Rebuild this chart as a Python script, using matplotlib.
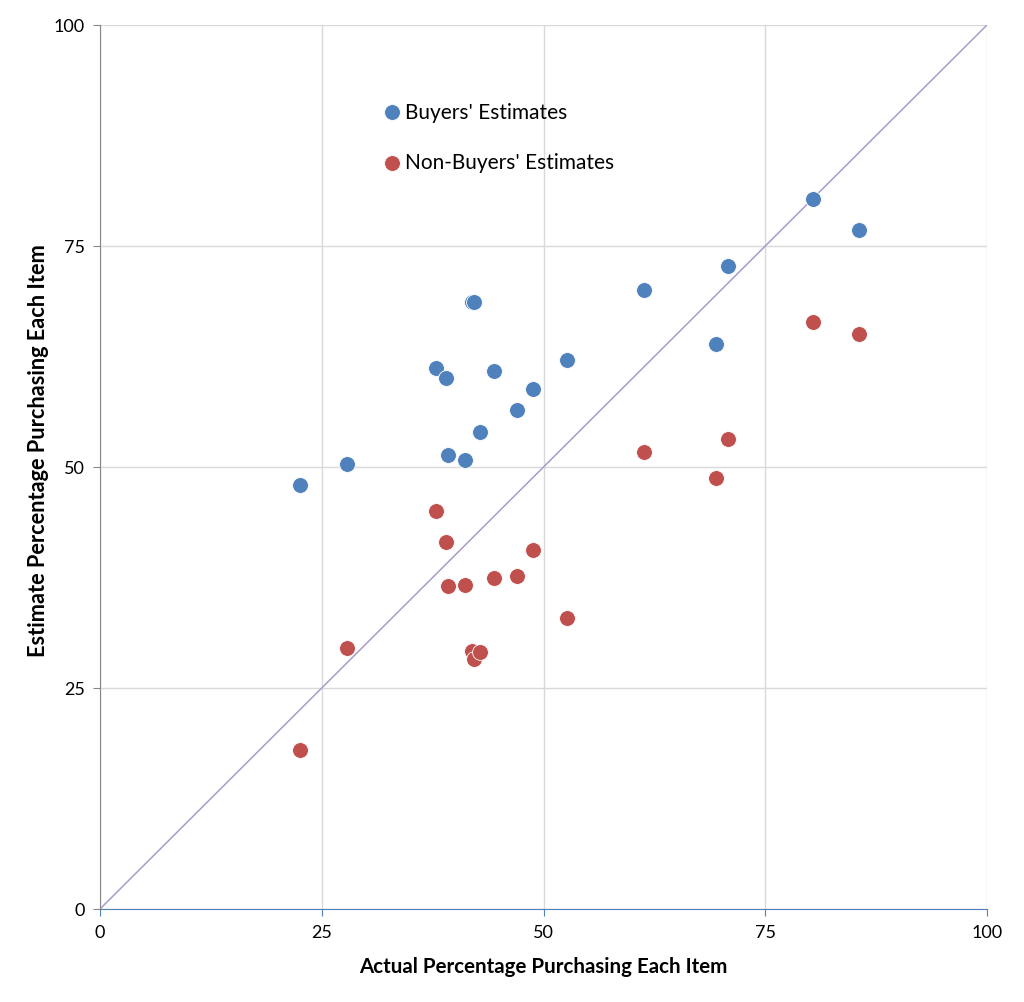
import matplotlib
matplotlib.use("Agg")
import matplotlib.pyplot as plt

# actual share of buyers per item, and the two groups' estimates
actual = [22.6, 27.8, 37.9, 39.0, 39.2, 41.1, 41.9, 42.2, 42.8, 44.4,
          47.0, 48.8, 52.6, 61.3, 69.4, 70.8, 80.4, 85.6]
buyers_est = [48.0, 50.3, 61.2, 60.1, 51.4, 50.8, 68.7, 68.7, 54.0, 60.9,
              56.4, 58.8, 62.1, 70.0, 63.9, 72.7, 80.3, 76.8]
nonbuyers_est = [18.0, 29.5, 45.0, 41.5, 36.5, 36.6, 29.2, 28.3, 29.1, 37.4,
                 37.7, 40.6, 32.9, 51.7, 48.8, 53.2, 66.4, 65.1]
ticks = [0, 25, 50, 75, 100]

plt.rcParams['font.family'] = ['Lato', 'DejaVu Sans']

fig = plt.figure(figsize=(10.24, 10.03), dpi=100)
ax = fig.add_axes([100/1024, 93/1003, 887/1024, 884/1003])

ax.plot([0, 100], [0, 100], color='#A99BCB', lw=1.1, zorder=1)
ax.scatter(actual, buyers_est, s=130, color='#4F81BD', edgecolor='white',
           linewidth=0.6, label="Buyers' Estimates", zorder=3)
ax.scatter(actual, nonbuyers_est, s=130, color='#C0504D', edgecolor='white',
           linewidth=0.6, label="Non-Buyers' Estimates", zorder=3)

ax.set_xlim(0, 100)
ax.set_ylim(0, 100)
ax.set_xticks(ticks)
ax.set_yticks(ticks)
ax.grid(True, color='#D9D9D9', lw=1.0)
ax.set_axisbelow(True)

for s in ['top', 'right']:
    ax.spines[s].set_visible(False)
ax.spines['left'].set_color('#868686')
ax.spines['bottom'].set_color('#4F81BD')
ax.spines['bottom'].set_zorder(2)
ax.tick_params(axis='y', colors='#868686', labelcolor='black', length=5,
               labelsize=13, pad=6)
ax.tick_params(axis='x', colors='#4F81BD', labelcolor='black', length=5,
               labelsize=13, pad=6)

ax.set_xlabel("Actual Percentage Purchasing Each Item", fontsize=14.8,
              fontweight='bold', labelpad=11)
ax.set_ylabel("Estimate Percentage Purchasing Each Item", fontsize=15.7,
              fontweight='bold')
ax.yaxis.set_label_coords(-0.058, 0.52)

ax.legend(loc='upper left', bbox_to_anchor=(0.3105, 0.9225), frameon=False,
          fontsize=15, labelspacing=1.45, handlelength=0.8,
          handletextpad=0.2, scatterpoints=1, borderaxespad=0)

fig.savefig("out.png", dpi=100)
